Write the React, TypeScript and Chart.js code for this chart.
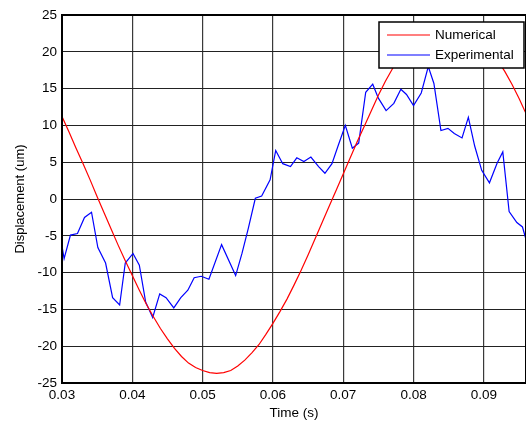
import React, { useEffect, useRef } from "react";
import { Chart, registerables } from "chart.js";

Chart.register(...registerables);

// Experimental (blue) series
const expTime = [0.0300, 0.0303, 0.0312, 0.0322, 0.0332, 0.0342, 0.0351, 0.0362, 0.0372, 0.0382, 0.0390, 0.0401, 0.0410, 0.0419, 0.0429, 0.0439, 0.0448, 0.0459, 0.0469, 0.0479, 0.0488, 0.0498, 0.0509, 0.0527, 0.0547, 0.0556, 0.0565, 0.0575, 0.0584, 0.0596, 0.0604, 0.0614, 0.0625, 0.0634, 0.0644, 0.0654, 0.0665, 0.0674, 0.0684, 0.0693, 0.0703, 0.0713, 0.0722, 0.0732, 0.0742, 0.0750, 0.0761, 0.0772, 0.0782, 0.0790, 0.0800, 0.0811, 0.0821, 0.0829, 0.0839, 0.0849, 0.0858, 0.0869, 0.0878, 0.0887, 0.0897, 0.0908, 0.0919, 0.0927, 0.0936, 0.0947, 0.0955, 0.0960];
const expDisp = [-6.4, -8.1, -4.9, -4.7, -2.5, -1.8, -6.6, -8.7, -13.4, -14.4, -8.7, -7.4, -9.0, -14.0, -16.1, -12.9, -13.4, -14.8, -13.4, -12.4, -10.7, -10.5, -10.9, -6.2, -10.4, -7.4, -4.0, 0.1, 0.4, 2.6, 6.6, 4.8, 4.4, 5.6, 5.1, 5.7, 4.4, 3.5, 4.8, 7.3, 10.0, 6.9, 7.6, 14.5, 15.6, 13.7, 12.0, 13.0, 14.9, 14.2, 12.7, 14.4, 18.0, 15.7, 9.3, 9.6, 8.9, 8.3, 11.1, 7.2, 3.9, 2.2, 4.9, 6.4, -1.7, -3.2, -3.8, -5.5];

// Numerical (red) series
const numTime = [0.030, 0.031, 0.032, 0.033, 0.034, 0.035, 0.036, 0.037, 0.038, 0.039, 0.040, 0.041, 0.042, 0.043, 0.044, 0.045, 0.046, 0.047, 0.048, 0.049, 0.050, 0.051, 0.052, 0.053, 0.054, 0.055, 0.056, 0.057, 0.058, 0.059, 0.060, 0.061, 0.062, 0.063, 0.064, 0.065, 0.066, 0.067, 0.068, 0.069, 0.070, 0.071, 0.072, 0.073, 0.074, 0.075, 0.076, 0.077, 0.078, 0.079, 0.080, 0.081, 0.082, 0.083, 0.084, 0.085, 0.086, 0.087, 0.088, 0.089, 0.090, 0.091, 0.092, 0.093, 0.094, 0.095, 0.096];
const numDisp = [11.2, 9.1, 6.9, 4.8, 2.6, 0.3, -1.9, -4.1, -6.3, -8.4, -10.4, -12.4, -14.3, -16.0, -17.6, -19.0, -20.3, -21.4, -22.3, -22.9, -23.3, -23.6, -23.7, -23.6, -23.3, -22.7, -21.9, -20.9, -19.8, -18.4, -16.9, -15.3, -13.6, -11.7, -9.7, -7.6, -5.4, -3.2, -1.0, 1.2, 3.4, 5.6, 7.8, 9.9, 12.0, 14.1, 16.0, 17.7, 19.1, 20.3, 21.2, 22.0, 22.7, 23.2, 23.5, 23.6, 23.5, 23.2, 22.8, 22.1, 21.2, 20.1, 18.8, 17.3, 15.6, 13.7, 11.6];

const xTicks = [0.03, 0.04, 0.05, 0.06, 0.07, 0.08, 0.09];
const yTicks = [-25, -20, -15, -10, -5, 0, 5, 10, 15, 20, 25];
const xLabel = "Time (s)";
const yLabel = "Displacement (um)";
const seriesNames = ["Numerical", "Experimental"];
const seriesColors = ["#ff0000", "#0000ff"];

const FONT = "'Liberation Sans', Arial, Helvetica, sans-serif";

const framePlugin = {
  id: "frameAndLegend",
  afterDraw(chart: any) {
    const { ctx, chartArea } = chart;
    ctx.save();
    // axes box
    ctx.strokeStyle = "#000";
    ctx.lineWidth = 2;
    ctx.strokeRect(chartArea.left, chartArea.top, chartArea.right - chartArea.left, chartArea.bottom - chartArea.top);
    // legend box
    const bx = chartArea.right - 147;
    const by = chartArea.top + 7;
    const bw = 145;
    const bh = 46;
    ctx.fillStyle = "#fff";
    ctx.fillRect(bx, by, bw, bh);
    ctx.lineWidth = 1.5;
    ctx.strokeStyle = "#000";
    ctx.strokeRect(bx, by, bw, bh);
    ctx.font = `13.5px ${FONT}`;
    ctx.textBaseline = "middle";
    ctx.textAlign = "left";
    const rows = [by + 13, by + 33];
    seriesNames.forEach((name, i) => {
      ctx.strokeStyle = seriesColors[i];
      ctx.lineWidth = 1.2;
      ctx.beginPath();
      ctx.moveTo(bx + 8, rows[i]);
      ctx.lineTo(bx + 51, rows[i]);
      ctx.stroke();
      ctx.fillStyle = "#000";
      ctx.fillText(name, bx + 56, rows[i] + 0.5);
    });
    ctx.restore();
  },
};

export default function App() {
  const ref = useRef<HTMLCanvasElement | null>(null);
  useEffect(() => {
    if (!ref.current) return;
    const chart = new Chart(ref.current, {
      type: "line",
      data: {
        datasets: [
          {
            label: seriesNames[0],
            data: numTime.map((t, i) => ({ x: t, y: numDisp[i] })),
            borderColor: seriesColors[0],
            backgroundColor: seriesColors[0],
            borderWidth: 1.2,
            pointRadius: 0,
            tension: 0,
          },
          {
            label: seriesNames[1],
            data: expTime.map((t, i) => ({ x: t, y: expDisp[i] })),
            borderColor: seriesColors[1],
            backgroundColor: seriesColors[1],
            borderWidth: 1.2,
            pointRadius: 0,
            tension: 0,
          },
        ],
      },
      options: {
        animation: false,
        responsive: false,
        devicePixelRatio: 1,
        layout: { padding: { top: 15, right: 0, left: 0, bottom: 0 } },
        plugins: { legend: { display: false }, tooltip: { enabled: false } },
        scales: {
          x: {
            type: "linear",
            min: 0.03,
            max: 0.096,
            afterBuildTicks: (s: any) => {
              s.ticks = xTicks.map((v) => ({ value: v }));
            },
            afterFit: (s: any) => {
              s.height = 40;
            },
            ticks: {
              color: "#000",
              font: { family: FONT, size: 13.5 },
              padding: 4,
              maxRotation: 0,
              autoSkip: false,
              callback: (v: any) => Number(v).toFixed(2),
            },
            grid: { color: "#3a3a3a", lineWidth: 1.2, drawTicks: false },
            border: { display: false },
            title: {
              display: true,
              text: xLabel,
              color: "#000",
              font: { family: FONT, size: 13.5 },
              padding: { top: 0, bottom: 2 },
            },
          },
          y: {
            type: "linear",
            min: -25,
            max: 25,
            afterBuildTicks: (s: any) => {
              s.ticks = yTicks.map((v) => ({ value: v }));
            },
            afterFit: (s: any) => {
              s.width = 62;
            },
            ticks: {
              color: "#000",
              font: { family: FONT, size: 13.5 },
              padding: 5,
              autoSkip: false,
            },
            grid: { color: "#222", lineWidth: 1, drawTicks: false },
            border: { display: false },
            title: {
              display: true,
              text: yLabel,
              color: "#000",
              font: { family: FONT, size: 13 },
              padding: { top: 13, bottom: 0 },
            },
          },
        },
      },
      plugins: [framePlugin],
    });
    return () => chart.destroy();
  }, []);
  return (
    <div style={{ position: "fixed", left: 0, top: 0, width: 526, height: 423, background: "#fff" }}>
      <canvas ref={ref} width={526} height={423} style={{ display: "block" }} />
    </div>
  );
}
